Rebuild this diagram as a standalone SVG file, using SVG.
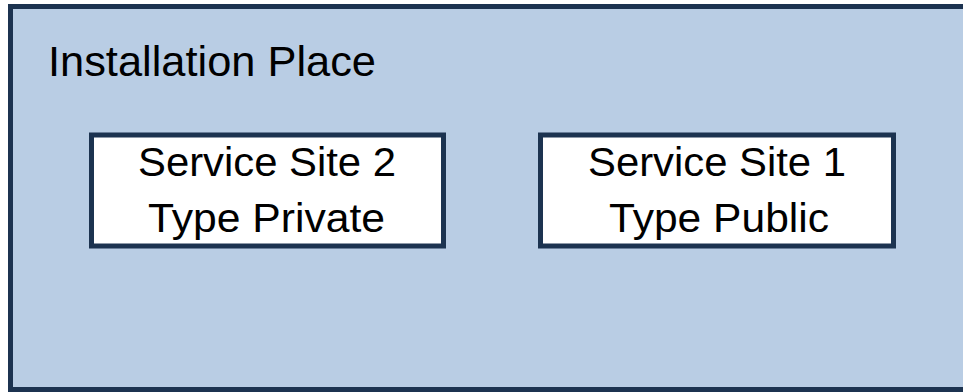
<svg xmlns="http://www.w3.org/2000/svg" width="963" height="392" viewBox="0 0 963 392">
<style>
.frame{fill:#b9cde4;stroke:#1c3350;stroke-width:5}
.box{fill:#ffffff;stroke:#1c3350;stroke-width:5}
.t{font-family:"Liberation Sans",Arial,sans-serif;fill:#000000}
.lbl{font-size:40px;text-anchor:middle}
</style>
<rect width="963" height="392" fill="#ffffff"/>
<g id="installation-place">
<rect class="frame" x="10.5" y="6.5" width="960" height="383"/>
<text class="t" x="48" y="76" font-size="42" textLength="328" lengthAdjust="spacingAndGlyphs">Installation Place</text>
</g>
<g id="service-site-2">
<rect class="box" x="91.5" y="135" width="352" height="111"/>
<text class="t lbl" x="267" y="176" textLength="258" lengthAdjust="spacingAndGlyphs">Service Site 2</text>
<text class="t lbl" x="266.5" y="232" textLength="237" lengthAdjust="spacingAndGlyphs">Type Private</text>
</g>
<g id="service-site-1">
<rect class="box" x="540.5" y="135" width="353" height="111"/>
<text class="t lbl" x="717" y="176" textLength="258" lengthAdjust="spacingAndGlyphs">Service Site 1</text>
<text class="t lbl" x="719" y="232" textLength="220" lengthAdjust="spacingAndGlyphs">Type Public</text>
</g>
<g id="connectors"></g>
</svg>
